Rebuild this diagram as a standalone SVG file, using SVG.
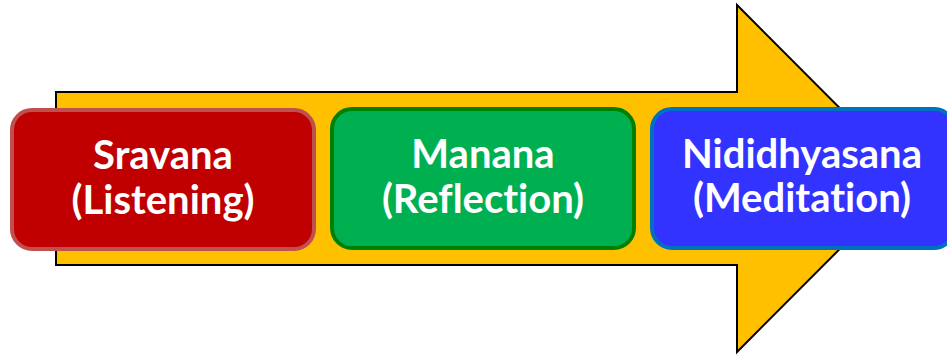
<svg xmlns="http://www.w3.org/2000/svg" width="947" height="358" viewBox="0 0 947 358">
<style>
.lbl{font-family:Lato,"Liberation Sans",sans-serif;font-weight:bold;font-size:40px;fill:#fff;text-anchor:middle;font-variant-ligatures:none;font-feature-settings:"liga" 0}
.box{stroke-width:4}
</style>
<rect width="947" height="358" fill="#fff"/>
<g id="arrow">
<polygon points="56,92 737,92 737,5 910,178.5 737,352 737,265 56,265" fill="#FFC000" stroke="#000" stroke-width="2" stroke-linejoin="miter"/>
</g>
<g id="connectors"></g>
<g id="sravana">
<rect class="box" x="12" y="110" width="302" height="139" rx="20" fill="#C00000" stroke="#C0504D"/>
<text class="lbl" x="163" y="169">Sravana</text>
<text class="lbl" x="163" y="214">(Listening)</text>
</g>
<g id="manana">
<rect class="box" x="332" y="109" width="302" height="139" rx="20" fill="#00B050" stroke="#008000"/>
<text class="lbl" x="483" y="168">Manana</text>
<text class="lbl" x="483" y="213">(Reflection)</text>
</g>
<g id="nididhyasana">
<rect class="box" x="652" y="109" width="302" height="139" rx="20" fill="#3333FF" stroke="#0070C0"/>
<text class="lbl" x="802" y="168">Nididhyasana</text>
<text class="lbl" x="802" y="212">(Meditation)</text>
</g>
</svg>
